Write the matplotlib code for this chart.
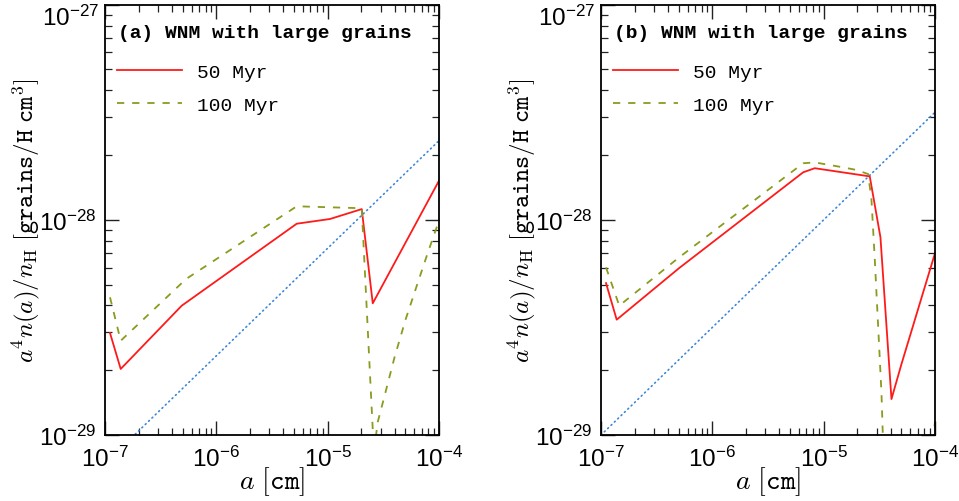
import numpy as np
import matplotlib
matplotlib.use("Agg")
import matplotlib.pyplot as plt
from matplotlib.ticker import FixedLocator, FuncFormatter, NullFormatter

# ---------------- data (log10 values) ----------------
# Panel (a)
a_red_logx = [-6.955, -6.859, -6.311, -5.278, -4.979, -4.694, -4.595, -4.0]
a_red_logy = [-28.526, -28.693, -28.399, -28.018, -27.996, -27.950, -28.388, -27.818]

a_grn_logx = [-6.955, -6.859, -6.272, -5.278, -4.694, -4.585, -4.55, -4.5, -4.4, -4.3, -4.2, -4.1, -4.0]
a_grn_logy = [-28.360, -28.562, -28.275, -27.937, -27.946, -29.08, -28.939, -28.84, -28.64, -28.463, -28.307, -28.152, -28.004]

a_ref_logx = [-7.0, -4.0]
a_ref_logy = [-29.132, -27.632]

# Panel (b)
b_red_logx = [-6.955, -6.859, -6.30, -5.184, -5.080, -4.586, -4.490, -4.391, -4.301, -4.0]
b_red_logy = [-28.294, -28.464, -28.225, -27.779, -27.760, -27.798, -28.081, -28.833, -28.670, -28.155]

b_grn_logx = [-6.955, -6.836, -6.30, -5.184, -5.080, -4.826, -4.706, -4.601, -4.571, -4.541, -4.511, -4.481, -4.45, -4.30, -4.10, -4.04, -4.0]
b_grn_logy = [-28.221, -28.399, -28.175, -27.737, -27.733, -27.756, -27.768, -27.787, -27.903, -28.182, -28.492, -28.802, -29.30, -30.0, -29.6, -29.2, -28.934]

b_ref_logx = [-7.0, -4.0]
b_ref_logy = [-29.0, -27.5]

x_decades = [-7, -6, -5, -4]
y_decades = [-29, -28, -27]

panel_titles = ["(a) WNM with large grains", "(b) WNM with large grains"]
series_labels = ["50 Myr", "100 Myr"]

RED = "#ff1a1a"
GREEN = "#8a9b1e"
BLUE = "#3d86d6"

plt.rcParams["mathtext.fontset"] = "cm"
plt.rcParams["font.family"] = ["Liberation Sans", "DejaVu Sans"]

fig = plt.figure(figsize=(9.59, 5.02), dpi=100)

W, H = 959.0, 502.0
ax_left = [105.0, 601.0]
ax_w = 334.0
ax_top = 5.7
ax_bot = 436.0
YMIN, YMAX = 10.0 ** y_decades[0], 10.0 ** y_decades[-1]


def majors(decs):
    return [10.0 ** d for d in decs]


def minors(decs):
    return [m * 10.0 ** d for d in decs[:-1] for m in range(2, 10)]


def xfmt(v, pos):
    e = int(round(np.log10(v)))
    return r"$\mathregular{10^{%d}}$" % e


def yfmt(v, pos):
    e = int(round(np.log10(v)))
    if v >= YMAX * 0.999:
        return ""          # top label is drawn separately, nudged down to stay inside
    return r"$\mathregular{10^{%d}}$" % e


panels = [
    (a_red_logx, a_red_logy, a_grn_logx, a_grn_logy, a_ref_logx, a_ref_logy),
    (b_red_logx, b_red_logy, b_grn_logx, b_grn_logy, b_ref_logx, b_ref_logy),
]

for i, (rx, ry, gx, gy, bx, by) in enumerate(panels):
    ax = fig.add_axes([ax_left[i] / W, (H - ax_bot) / H, ax_w / W, (ax_bot - ax_top) / H])
    ax.set_xscale("log")
    ax.set_yscale("log")
    ax.set_xlim(10.0 ** x_decades[0], 10.0 ** x_decades[-1])
    ax.set_ylim(YMIN, YMAX)

    ax.plot(10 ** np.array(bx), 10 ** np.array(by), color=BLUE, lw=1.2,
            linestyle=(0, (0.6, 2.2)), dash_capstyle="round")
    ax.plot(10 ** np.array(rx), 10 ** np.array(ry), color=RED, lw=1.3,
            label=series_labels[0])
    ax.plot(10 ** np.array(gx), 10 ** np.array(gy), color=GREEN, lw=1.3,
            linestyle=(0, (4.0, 4.4)), label=series_labels[1])

    ax.xaxis.set_major_locator(FixedLocator(majors(x_decades)))
    ax.xaxis.set_minor_locator(FixedLocator(minors(x_decades)))
    ax.yaxis.set_major_locator(FixedLocator(majors(y_decades)))
    ax.yaxis.set_minor_locator(FixedLocator(minors(y_decades)))
    ax.xaxis.set_major_formatter(FuncFormatter(xfmt))
    ax.yaxis.set_major_formatter(FuncFormatter(yfmt))
    ax.xaxis.set_minor_formatter(NullFormatter())
    ax.yaxis.set_minor_formatter(NullFormatter())

    ax.tick_params(which="both", direction="in", top=True, right=True,
                   labelsize=17.5, color="#222222")
    ax.tick_params(which="major", length=10, width=1.0)
    ax.tick_params(axis="x", which="major", pad=8)
    ax.tick_params(axis="y", which="major", pad=6)
    ax.tick_params(which="minor", length=5, width=0.9)
    for s in ax.spines.values():
        s.set_linewidth(1.3)

    # top y tick label, shifted down so it stays inside the figure
    ax.annotate(r"$\mathregular{10^{%d}}$" % y_decades[-1],
                xy=(0, YMAX), xycoords=ax.get_yaxis_transform(),
                xytext=(-4.5, -7.5), textcoords="offset points",
                ha="right", va="center_baseline", fontsize=17.5)

    ax.set_xlabel(r"$a\ \mathtt{[cm]}$", fontsize=20, labelpad=-5)
    ax.set_ylabel(r"$a^4n(a)/n_{\rm H}\ \mathtt{[grains/H\ cm^3]}$", fontsize=18, labelpad=-2)

    ax.text(0.04, 0.955, panel_titles[i], transform=ax.transAxes,
            fontsize=14, fontweight="bold", family="Liberation Mono",
            ha="left", va="top")

    ax.legend(loc="upper left", bbox_to_anchor=(0.036, 0.864), frameon=False,
              prop={"family": "Liberation Mono", "size": 14},
              handlelength=3.35, handletextpad=0.75, labelspacing=0.81,
              borderaxespad=0.0, borderpad=0.0)

fig.savefig("out.png", dpi=100)
